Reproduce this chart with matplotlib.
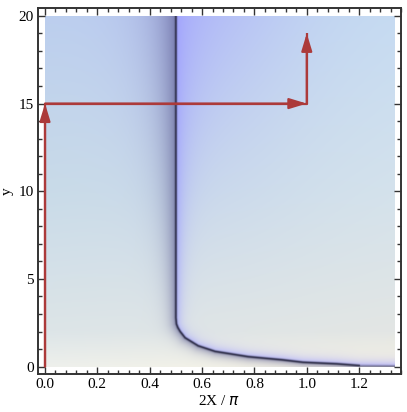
import numpy as np
import matplotlib
matplotlib.use("Agg")
import matplotlib.pyplot as plt
from matplotlib.ticker import MultipleLocator

# -------- Data --------
X_MAX = 1.337
Y_MAX = 20.0
# dark ridge of the density plot (2X/pi, y)
CURVE_X = [0.500, 0.500, 0.502, 0.507, 0.516, 0.535, 0.585, 0.650, 0.776, 0.906, 0.986, 1.116, 1.204, 1.337]
CURVE_Y = [20.0, 2.80, 2.45, 2.25, 2.02, 1.66, 1.20, 0.88, 0.58, 0.40, 0.26, 0.17, 0.07, 0.05]
# red path with arrows
PATH_X = [0.0, 0.0, 1.0, 1.0]
PATH_Y = [0.0, 15.0, 15.0, 19.0]
X_TICKS = [0.0, 0.2, 0.4, 0.6, 0.8, 1.0, 1.2]
Y_TICKS = [0, 5, 10, 15, 20]

# -------- Build the density image --------
NX, NY = 800, 800
xs = np.linspace(0, X_MAX, NX)
ys = np.linspace(0, Y_MAX, NY)
XX, YY = np.meshgrid(xs, ys)
SX, SY = 262.0, 17.5  # pixel scale per unit
PX, PY = XX * SX, YY * SY

cx = np.array(CURVE_X) * SX
cy = np.array(CURVE_Y) * SY
dist = np.full(XX.shape, 1e9)
side = np.zeros(XX.shape)
for i in range(len(cx) - 1):
    ax_, ay_ = cx[i], cy[i]
    dx, dy = cx[i + 1] - ax_, cy[i + 1] - ay_
    L2 = dx * dx + dy * dy
    t = np.clip(((PX - ax_) * dx + (PY - ay_) * dy) / L2, 0, 1)
    qx, qy = ax_ + t * dx, ay_ + t * dy
    d = np.hypot(PX - qx, PY - qy)
    cr = dx * (PY - ay_) - dy * (PX - ax_)
    m = d < dist
    dist[m] = d[m]
    side[m] = np.sign(cr[m])

def hex2rgb(h):
    h = h.lstrip('#')
    return np.array([int(h[i:i + 2], 16) / 255 for i in (0, 2, 4)])

# background colours by height (left edge, right edge)
lev_y = np.array([0.0, 2.0, 10.0, 20.0])
left_c = np.array([hex2rgb(c) for c in ['#eef0ec', '#dde5e8', '#c9dbe8', '#bccfee']])
right_c = np.array([hex2rgb(c) for c in ['#f7f3e3', '#e3e6e4', '#d4e2ec', '#c6dbf2']])
base = np.zeros(XX.shape + (3,))
fx = XX / X_MAX
for k in range(3):
    lc = np.interp(YY, lev_y, left_c[:, k])
    rc = np.interp(YY, lev_y, right_c[:, k])
    base[..., k] = lc * (1 - fx) + rc * fx

# lavender tint near the top middle
top_f = (YY / Y_MAX) ** 2
mid = np.exp(-((XX - 0.62) / 0.35) ** 2)
lav = hex2rgb('#b4baf8')
w = (0.55 * top_f * mid)[..., None]
base = base * (1 - w) + lav * w

yf = YY / Y_MAX
# shadow on the left / below side
Ll = 4 + 16 * yf
wl = np.where(side < 0, 0.68 * np.exp(-dist / Ll), 0)[..., None]
dark = hex2rgb('#5a5a90')
img = base * (1 - wl) + dark * wl
# bright lavender on the right / above side
Lr = 5 + 28 * yf ** 2
wr = np.where(side > 0, (0.45 + 0.35 * yf) * np.exp(-dist / Lr), 0)[..., None]
bright = hex2rgb('#a0a0ff')
img = img * (1 - wr) + bright * wr
# narrow bright edge just right of the ridge
we = np.where(side > 0, 0.45 * np.exp(-dist / 4.0), 0)[..., None]
img = img * (1 - we) + hex2rgb('#9a9aff') * we
# dark core of the ridge
core_strength = np.where(XX > 1.204, 0.3, 0.95)
wc = (core_strength * np.exp(-(dist / 1.1) ** 2))[..., None]
img = img * (1 - wc) + hex2rgb('#26263f') * wc
img = np.clip(img, 0, 1)

# -------- Plot --------
plt.rcParams['font.family'] = ['Liberation Serif', 'DejaVu Serif']
fig = plt.figure(figsize=(4.07, 4.12), dpi=100)
ax = fig.add_axes([0.0926, 0.0922, 0.8927, 0.8884])
ax.imshow(img, origin='lower', extent=[0, X_MAX, 0, Y_MAX], aspect='auto',
          interpolation='bilinear')

red = '#ac3a3a'
ax.plot(PATH_X, PATH_Y, color=red, lw=1.6, solid_capstyle='butt', zorder=3)
for i in range(len(PATH_X) - 1):
    ax.annotate('', xy=(PATH_X[i + 1], PATH_Y[i + 1]), xytext=(PATH_X[i], PATH_Y[i]),
                arrowprops=dict(arrowstyle='-|>,head_length=1.05,head_width=0.32',
                                color=red, lw=1.6, shrinkA=0, shrinkB=0), zorder=4)

ax.set_xlim(-0.028, 1.36)
ax.set_ylim(-0.42, 20.45)
ax.set_xticks(X_TICKS)
ax.set_xticklabels(['%.1f' % v for v in X_TICKS])
ax.set_yticks(Y_TICKS)
ax.xaxis.set_minor_locator(MultipleLocator(0.04))
ax.yaxis.set_minor_locator(MultipleLocator(1))
ax.tick_params(which='both', direction='in', top=True, right=True, labelsize=11,
               color='#333333', width=1.0)
ax.tick_params(which='major', length=5, pad=3)
ax.tick_params(which='minor', length=3)
for s in ax.spines.values():
    s.set_linewidth(1.4)
    s.set_color('#333333')
ax.set_xlabel('2X / $\\pi$', fontsize=11, labelpad=2)
ax.set_ylabel('y', fontsize=11, labelpad=3)

fig.savefig('out.png', dpi=100)
